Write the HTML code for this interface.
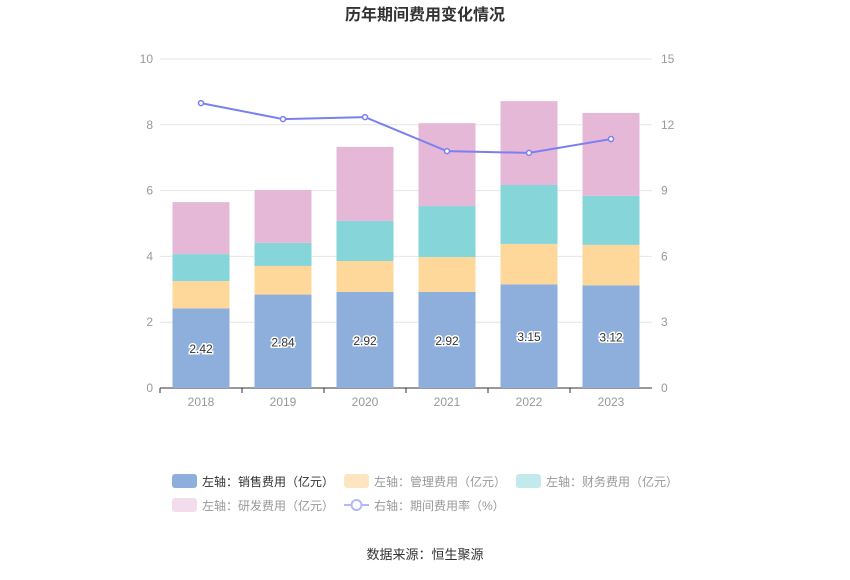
<!DOCTYPE html>
<html><head><meta charset="utf-8"><style>
body{margin:0;background:#fff;font-family:"Liberation Sans","Noto Sans CJK SC",sans-serif}
svg text{font-family:"Liberation Sans","Noto Sans CJK SC",sans-serif}
</style></head><body>
<svg id="c" width="850" height="575" xmlns="http://www.w3.org/2000/svg">
<text x="425" y="20" text-anchor="middle" font-size="16" font-weight="bold" fill="#333">历年期间费用变化情况</text>
<g id="grid"></g><g id="bars"></g><g id="line"></g><g id="axes"></g>
<g>
<g><rect x="172" y="474" width="25" height="14" rx="3" fill="#8eaedb"/><text x="202" y="486" font-size="12" fill="#333">左轴：销售费用（亿元）</text></g>
<g><rect x="344" y="474" width="25" height="14" rx="3" fill="#fde5c1"/><text x="374" y="486" font-size="12" fill="#999">左轴：管理费用（亿元）</text></g>
<g><rect x="516" y="474" width="25" height="14" rx="3" fill="#c2e9eb"/><text x="546" y="486" font-size="12" fill="#999">左轴：财务费用（亿元）</text></g>
<g><rect x="172" y="498" width="25" height="14" rx="3" fill="#f3dcec"/><text x="202" y="510" font-size="12" fill="#999">左轴：研发费用（亿元）</text></g>
<g><line x1="344" y1="505" x2="369" y2="505" stroke="#b5b7f7" stroke-width="2"/><circle cx="356.5" cy="505" r="5" fill="#fff" stroke="#b5b7f7" stroke-width="2"/><text x="374" y="510" font-size="12" fill="#999">右轴：期间费用率（%）</text></g>
</g>
<text x="425" y="559" text-anchor="middle" font-size="13" fill="#333">数据来源：恒生聚源</text>
</svg>
<script>
const years=["2018","2019","2020","2021","2022","2023"];
const sales=[2.42,2.84,2.92,2.92,3.15,3.12];
const mgmt=[0.83,0.87,0.94,1.06,1.23,1.23];
const fin=[0.82,0.70,1.22,1.55,1.79,1.49];
const rd=[1.58,1.61,2.25,2.52,2.55,2.52];
const rate=[12.99,12.26,12.35,10.80,10.72,11.35];
const leftTicks=[0,2,4,6,8,10];
const rightTicks=[0,3,6,9,12,15];
const NS="http://www.w3.org/2000/svg";
const x0=160,x1=652,y0=388,y1=59;
const band=(x1-x0)/years.length;
const xc=i=>x0+band*(i+0.5);
const yl=v=>y0-(v/10)*(y0-y1);
const yr=v=>y0-(v/15)*(y0-y1);
function mk(p,t,a){const e=document.createElementNS(NS,t);for(const k in a)e.setAttribute(k,a[k]);p.appendChild(e);return e;}
const G=document.getElementById('grid'),B=document.getElementById('bars'),L=document.getElementById('line'),A=document.getElementById('axes');
leftTicks.forEach((t,i)=>{
 const g=mk(G,'line',{x1:x0,x2:x1,y1:yl(t),y2:yl(t),stroke:i==0?'#333':'#e6e6e6'});
 
 
 const tx=mk(A,'text',{x:153,y:yl(t)+4,'text-anchor':'end','font-size':12,fill:'#999'});tx.textContent=t;
 
 
});
rightTicks.forEach(t=>{
 const tx=mk(A,'text',{x:661,y:yr(t)+4,'font-size':12,fill:'#999'});tx.textContent=t;
 
 
});
const series=[[sales,'#8eaedb','sales'],[mgmt,'#fdd89a','management'],[fin,'#86d5d9','finance'],[rd,'#e6b8d8','rd']];
const bw=57;
years.forEach((y,i)=>{
 let acc=0;
 series.forEach(([arr,col,nm])=>{
  const top=yl(acc+arr[i]),bot=yl(acc);
  const r=mk(B,'rect',{x:xc(i)-bw/2,y:top,width:bw,height:bot-top,fill:col});
  
  
  acc+=arr[i];
 });
 const lb=mk(B,'text',{x:xc(i),y:(yl(0)+yl(sales[i]))/2+5,'text-anchor':'middle','font-size':12,fill:'#333',stroke:'#fff','stroke-width':3,'paint-order':'stroke'});
 lb.textContent=sales[i].toFixed(2);
 
 
 const tk=mk(A,'line',{x1:x0+band*i,x2:x0+band*i,y1:y0,y2:y0+5,stroke:'#333'});
 
 
 const xt=mk(A,'text',{x:xc(i),y:406,'text-anchor':'middle','font-size':12,fill:'#999'});xt.textContent=y;
 
 
});
const pl=mk(L,'polyline',{points:rate.map((v,i)=>xc(i)+','+yr(v)).join(' '),fill:'none',stroke:'#7b7ff0','stroke-width':2});


rate.forEach((v,i)=>{
 const c=mk(L,'circle',{cx:xc(i),cy:yr(v),r:2.5,fill:'#fff',stroke:'#7b7ff0','stroke-width':1.5});
 
 
});
</script>
</body></html>
